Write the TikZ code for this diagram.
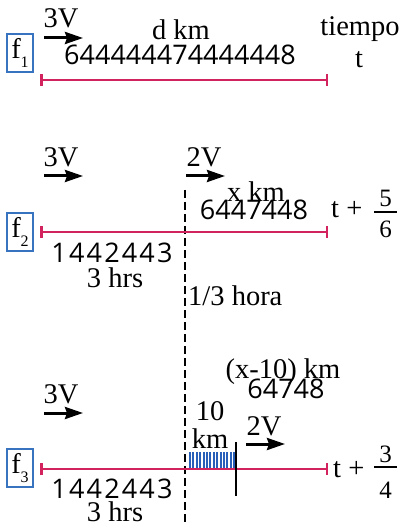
\documentclass[tikz,border=0pt]{standalone}
\usepackage{fontspec}
\setmainfont{Liberation Serif}
\newfontfamily\digf{Open Sans}
\newfontfamily\digsp[LetterSpace=8]{Open Sans}
\usetikzlibrary{arrows.meta}
\definecolor{segred}{RGB}{210,35,95}
\definecolor{boxblue}{RGB}{55,115,190}
\definecolor{stripeblue}{RGB}{40,95,185}
\begin{document}
\begin{tikzpicture}[x=1pt,y=-1pt,
  lbl/.style={anchor=base,inner sep=0pt,font=\fontsize{28.5}{31}\selectfont},
  frac/.style={anchor=base,inner sep=0pt,font=\fontsize{25}{27}\selectfont},
  dig/.style={anchor=base,inner sep=0pt,font=\fontsize{27}{30}\selectfont\digf},
  digs/.style={anchor=base,inner sep=0pt,font=\fontsize{27}{30}\selectfont\digsp},
  fbox/.style={draw=boxblue,line width=2.2pt,minimum width=26pt,minimum height=38pt,inner sep=0pt,font=\fontsize{28.5}{31}\selectfont},
  seg/.style={draw=segred,line width=2.5pt,{Bar[width=12pt]}-{Bar[width=12pt]}},
  vel/.style={line width=3pt,-{Stealth[length=18pt,width=12pt,inset=2pt]}},
  fracbar/.style={line width=2.5pt},
  divide/.style={line width=2.2pt,dash pattern=on 8pt off 4pt},
]
\useasboundingbox (0,0) rectangle (403,526);

% ---------- panel 1 ----------
\node[fbox] (f1) at (20,53) {f\raisebox{-9pt}{\fontsize{16}{16}\selectfont 1}};
\node[lbl] (v1) at (61,28) {3V};
\coordinate (a1s) at (44,38); \coordinate (a1e) at (83,38);
\draw[vel] (a1s) -- (a1e);
\node[lbl] (dkm) at (181,40) {d km};
\node[dig] (br1) at (180,65) {644444474444448};
\node[lbl] (tiempo) at (360,36) {tiempo};
\node[lbl] (t1) at (359,68) {t};
\coordinate (s1a) at (40,80); \coordinate (s1b) at (328,80);
\draw[seg] (s1a) -- (s1b);

% ---------- dashed divider ----------
\coordinate (da) at (185,190); \coordinate (db) at (185,526);
\draw[divide] (da) -- (db);

% ---------- panel 2 ----------
\node[fbox] (f2) at (20,232) {f\raisebox{-9pt}{\fontsize{16}{16}\selectfont 2}};
\node[lbl] (v2a) at (61,167) {3V};
\coordinate (a2s) at (44,176); \coordinate (a2e) at (83,176);
\draw[vel] (a2s) -- (a2e);
\node[lbl] (v2b) at (204,167) {2V};
\coordinate (b2s) at (186,176); \coordinate (b2e) at (225,176);
\draw[vel] (b2s) -- (b2e);
\node[lbl] (xkm) at (256,202) {x km};
\node[dig] (br2) at (254,220) {6447448};
\node[lbl,anchor=base west] (t2) at (331,218) {t +};
\coordinate (q2a) at (374,212); \coordinate (q2b) at (397,212);
\draw[fracbar] (q2a) -- (q2b);
\node[frac] (n2) at (385.5,207) {5};
\node[frac] (d2) at (385.5,237) {6};
\coordinate (s2a) at (40,232); \coordinate (s2b) at (328,232);
\draw[seg] (s2a) -- (s2b);
\node[digs] (br2b) at (112,262) {1442443};
\node[lbl] (h2) at (115,287) {3 hrs};
\node[lbl,anchor=base west] (hora) at (188,305) {1/3 hora};

% ---------- panel 3 ----------
\node[fbox] (f3) at (20,468) {f\raisebox{-9pt}{\fontsize{16}{16}\selectfont 3}};
\node[lbl] (xm10) at (283,378) {(x-10) km};
\node[dig] (br3) at (286,398) {64748};
\node[lbl] (v3a) at (61,403) {3V};
\coordinate (a3s) at (44,413); \coordinate (a3e) at (83,413);
\draw[vel] (a3s) -- (a3e);
\node[lbl] (ten) at (210,420) {10};
\node[lbl] (km3) at (210,448) {km};
\node[lbl] (v3b) at (264,435) {2V};
\coordinate (b3s) at (246,444); \coordinate (b3e) at (285,444);
\draw[vel] (b3s) -- (b3e);
\foreach \i in {0,...,13} {
  \draw[stripeblue,line width=1.9pt] ({190+\i*3.4},452) -- ({190+\i*3.4},468);
}
\coordinate (s3a) at (40,469); \coordinate (s3b) at (328,469);
\draw[seg] (s3a) -- (s3b);
\coordinate (ma) at (236,442); \coordinate (mb) at (236,496);
\draw[line width=2.2pt] (ma) -- (mb);
\node[lbl,anchor=base west] (t3) at (333,477) {t +};
\coordinate (q3a) at (374,467); \coordinate (q3b) at (397,467);
\draw[fracbar] (q3a) -- (q3b);
\node[frac] (n3) at (385.5,462) {3};
\node[frac] (d3) at (385.5,498) {4};
\node[digs] (br3b) at (112,498) {1442443};
\node[lbl] (h3) at (115,521) {3 hrs};
\end{tikzpicture}
\end{document}
